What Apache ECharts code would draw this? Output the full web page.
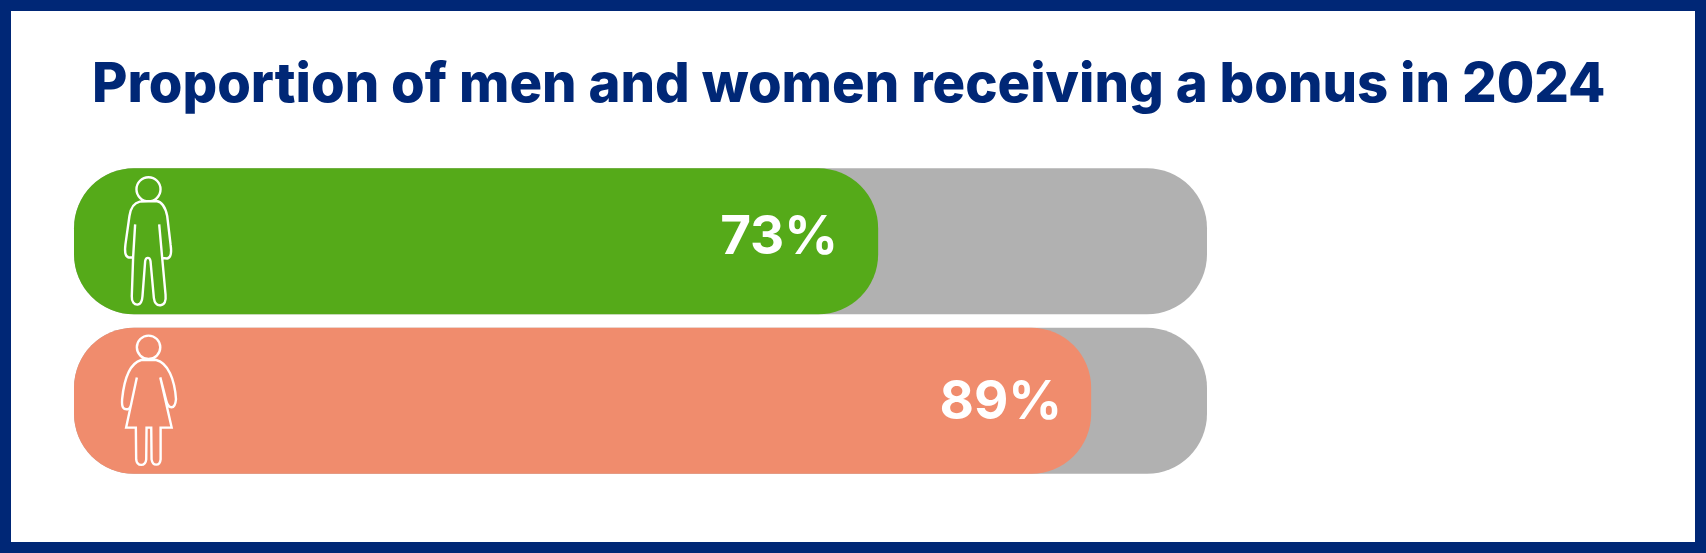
<!DOCTYPE html>
<html><head><meta charset="utf-8">
<style>html,body{margin:0;padding:0;background:#fff}#c{width:1706px;height:553px}</style>
<script src="https://cdn.jsdelivr.net/npm/echarts@6/dist/echarts.min.js"></script>
</head><body><div id="c"></div>
<script>
const categories = ['Men', 'Women'];
const bonusShare = [73, 89];
const labelText = ['73%', '89%'];
const axisStart = 12.6;
const axisEnd = 97.7;
const trackValues = [axisEnd, axisEnd];

const manPath = 'M238,127 C218,131 210,150 207,170 L195,255 C192,278 193,292 205,294 L218,294 L214,410 C213,428 222,436 232,435 C242,434 245,425 246,410 L254,305 C256,292 268,292 270,305 L280,415 C282,430 290,438 300,437 C312,436 317,425 315,405 L305,296 L320,297 C332,295 333,275 330,255 L320,170 C315,145 305,128 288,125 Z M224,195 L218,294 M296,195 L305,296 M300,90 A36,36 0 1 1 228,90 A36,36 0 1 1 300,90';
const womanPath = 'M245,603 C215,612 195,650 188,720 C186,745 192,752 205,750 C212,748 215,740 217,725 L232,655 L200,805 L229,805 L230,900 C232,922 258,922 260,900 L261,805 L275,805 L276,900 C279,921 301,921 303,900 L303,805 L336,805 L302,655 L320,725 C326,748 346,755 349,720 C345,660 325,612 290,603 Z M302,565 A35,35 0 1 1 232,565 A35,35 0 1 1 302,565';
const iconPaths = [manPath, womanPath];
const iconBoxes = [
  { dx: 50, dy: -64, w: 48, h: 128 },
  { dx: 48, dy: -66, w: 54, h: 131 }
];

const chart = echarts.init(document.getElementById('c'), null, { renderer: 'canvas' });
chart.setOption({
  backgroundColor: '#fff',
  animation: false,
  title: {
    text: 'Proportion of men and women receiving a bonus in 2024',
    left: 87, top: 54,
    textStyle: { fontFamily: 'Inter', fontSize: 54.4, fontWeight: 800, color: '#002776' }
  },
  grid: { left: 74, top: 161.5, width: 1133, height: 319 },
  xAxis: { type: 'value', min: axisStart, max: axisEnd, show: false },
  yAxis: { type: 'category', inverse: true, data: categories, show: false },
  series: [
    { type: 'bar', name: 'Track', data: trackValues, barWidth: 146, barGap: '-100%', silent: true,
      itemStyle: { color: '#B1B1B1', borderRadius: 60 } },
    { type: 'bar', name: 'Received a bonus', barWidth: 146,
      data: [
        { value: bonusShare[0], itemStyle: { color: '#55AA19', borderRadius: 60 },
          label: { show: true, position: 'insideRight', distance: 40, offset: [0, -3], formatter: labelText[0],
            color: '#fff', fontFamily: 'Inter', fontSize: 53, fontWeight: 700 } },
        { value: bonusShare[1], itemStyle: { color: '#F08C6D', borderRadius: 60 },
          label: { show: true, position: 'insideRight', distance: 29, offset: [0, 2], formatter: labelText[1],
            color: '#fff', fontFamily: 'Inter', fontSize: 53, fontWeight: 700 } }
      ] },
    { type: 'custom', name: 'Icons', silent: true, z: 10,
      data: categories.map((c, i) => [axisStart, i]),
      renderItem: (params, api) => {
        const i = params.dataIndex;
        const p = api.coord([api.value(0), api.value(1)]);
        const b = iconBoxes[i];
        return { type: 'path',
          shape: { pathData: iconPaths[i], x: p[0] + b.dx, y: p[1] + b.dy, width: b.w, height: b.h },
          style: { fill: 'none', stroke: '#fff', lineWidth: 2.4 } };
      } }
  ],
  graphic: [
    { type: 'rect', z: 30, silent: true, shape: { x: 5.5, y: 5.5, width: 1695, height: 542 },
      style: { fill: null, stroke: '#002776', lineWidth: 11 } }
  ]
});
</script></body></html>
